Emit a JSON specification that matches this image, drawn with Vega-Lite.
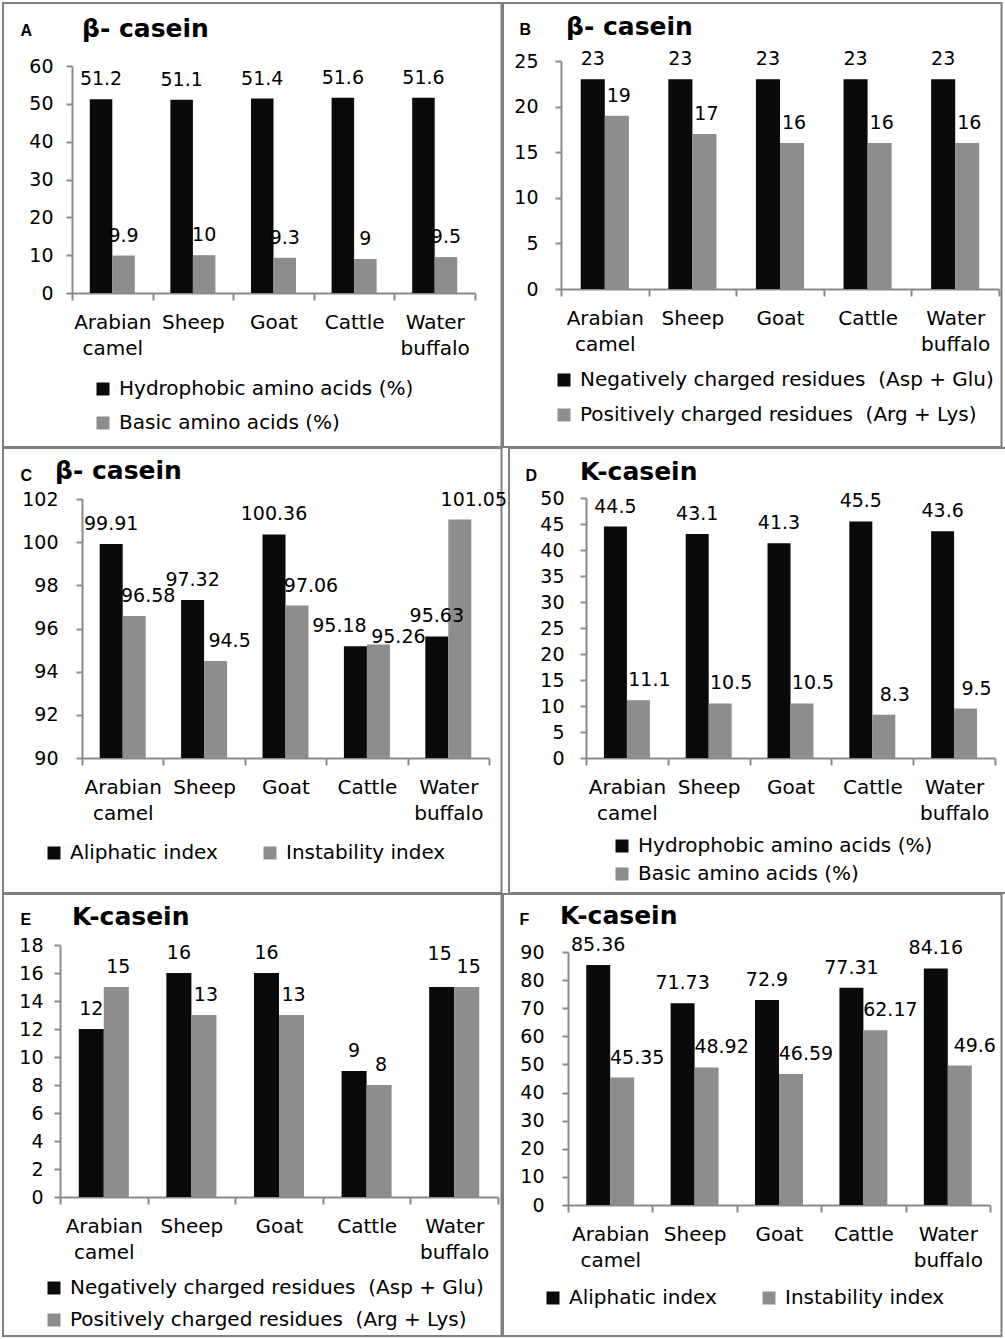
{
  "$schema": "https://vega.github.io/schema/vega-lite/v6.json",
  "padding": {"left": 2, "top": 2, "right": 2, "bottom": 2},
  "spacing": -2,
  "resolve": {"scale": {"color": "independent", "xOffset": "independent"}, "legend": {"color": "independent"}},
  "config": {
    "view": {"stroke": "#7f7f7f", "strokeWidth": 2},
    "font": "DejaVu Sans",
    "axis": {"domainColor": "#8a8a8a", "domainWidth": 2, "tickColor": "#8a8a8a", "tickWidth": 2, "labelColor": "#000", "labelFont": "DejaVu Sans", "grid": false},
    "axisX": {"labelFontSize": 20, "labelAngle": 0, "tickSize": 7, "labelPadding": 12, "labelLineHeight": 26},
    "axisY": {"labelFontSize": 19, "tickSize": 6, "labelFlush": false},
    "legend": {"orient": "none", "symbolType": "square", "symbolSize": 169, "symbolStrokeWidth": 0, "labelFontSize": 20, "labelFont": "DejaVu Sans", "labelColor": "#000", "labelLimit": 700, "labelOffset": 6, "padding": 0},
    "title": {"font": "DejaVu Sans", "fontSize": 25, "fontWeight": "bold", "anchor": "start", "frame": "group", "baseline": "alphabetic", "color": "#000"},
    "text": {"fontSize": 19, "font": "DejaVu Sans", "baseline": "alphabetic", "color": "#000"}
  },
  "vconcat": [
    {
      "spacing": -2,
      "resolve": {"scale": {"color": "independent", "xOffset": "independent"}, "legend": {"color": "independent"}},
      "hconcat": [
        {
          "width": 498.5, "height": 444,
          "title": {"text": "β- casein", "offset": -38.5, "dx": 79},
          "data": {"values": [
            {"animal": "Arabian camel", "series": "Hydrophobic amino acids (%)", "value": 51.2},
            {"animal": "Sheep", "series": "Hydrophobic amino acids (%)", "value": 51.1},
            {"animal": "Goat", "series": "Hydrophobic amino acids (%)", "value": 51.4},
            {"animal": "Cattle", "series": "Hydrophobic amino acids (%)", "value": 51.6},
            {"animal": "Water buffalo", "series": "Hydrophobic amino acids (%)", "value": 51.6},
            {"animal": "Arabian camel", "series": "Basic amino acids (%)", "value": 9.9},
            {"animal": "Sheep", "series": "Basic amino acids (%)", "value": 10},
            {"animal": "Goat", "series": "Basic amino acids (%)", "value": 9.3},
            {"animal": "Cattle", "series": "Basic amino acids (%)", "value": 9},
            {"animal": "Water buffalo", "series": "Basic amino acids (%)", "value": 9.5}
          ]},
          "encoding": {
            "x": {"field": "animal", "type": "nominal", "scale": {"domain": ["Arabian camel", "Sheep", "Goat", "Cattle", "Water buffalo"], "range": [69, 472], "paddingInner": 0, "paddingOuter": 0}, "axis": {"title": null, "offset": -154, "tickBand": "extent", "labelFontSize": 20, "labelExpr": "split(datum.label, ' ')"}},
            "xOffset": {"field": "series", "type": "nominal", "scale": {"domain": ["Hydrophobic amino acids (%)", "Basic amino acids (%)"], "paddingOuter": 0.79, "paddingInner": 0}},
            "y": {"field": "value", "type": "quantitative", "scale": {"domain": [0, 60], "range": [290, 63], "nice": false}, "axis": {"values": [0, 10, 20, 30, 40, 50, 60], "offset": -69, "labelPadding": 13, "labelFontSize": 19, "title": "A", "titleFontSize": 16, "titleFont": "Liberation Sans", "titleFontWeight": "bold", "titleColor": "#000", "titleAngle": 0, "titleAlign": "left", "titleBaseline": "alphabetic", "titleX": -52, "titleY": 32}}
          },
          "layer": [
            {"mark": {"type": "bar"}, "encoding": {"y2": {"datum": 0}, "color": {"field": "series", "type": "nominal", "scale": {"domain": ["Hydrophobic amino acids (%)", "Basic amino acids (%)"], "range": ["#0a0a0a", "#8d8d8d"]}, "legend": {"title": null, "direction": "vertical", "legendX": 90, "legendY": 376, "rowPadding": 14}}}},
            {"transform": [{"filter": {"field": "series", "equal": "Hydrophobic amino acids (%)"}}], "mark": {"type": "text", "dy": -14}, "encoding": {"text": {"field": "value", "type": "quantitative"}}},
            {"transform": [{"filter": {"field": "series", "equal": "Basic amino acids (%)"}}], "mark": {"type": "text", "dy": -14, "dx": 0}, "encoding": {"text": {"field": "value", "type": "quantitative"}}}
          ]
        },
        {
          "width": 498.5, "height": 444,
          "title": {"text": "β- casein", "offset": -36.5, "dx": 63},
          "data": {"values": [
            {"animal": "Arabian camel", "series": "Negatively charged residues \u00a0(Asp + Glu)", "value": 23},
            {"animal": "Sheep", "series": "Negatively charged residues \u00a0(Asp + Glu)", "value": 23},
            {"animal": "Goat", "series": "Negatively charged residues \u00a0(Asp + Glu)", "value": 23},
            {"animal": "Cattle", "series": "Negatively charged residues \u00a0(Asp + Glu)", "value": 23},
            {"animal": "Water buffalo", "series": "Negatively charged residues \u00a0(Asp + Glu)", "value": 23},
            {"animal": "Arabian camel", "series": "Positively charged residues \u00a0(Arg + Lys)", "value": 19},
            {"animal": "Sheep", "series": "Positively charged residues \u00a0(Arg + Lys)", "value": 17},
            {"animal": "Goat", "series": "Positively charged residues \u00a0(Arg + Lys)", "value": 16},
            {"animal": "Cattle", "series": "Positively charged residues \u00a0(Arg + Lys)", "value": 16},
            {"animal": "Water buffalo", "series": "Positively charged residues \u00a0(Arg + Lys)", "value": 16}
          ]},
          "encoding": {
            "x": {"field": "animal", "type": "nominal", "scale": {"domain": ["Arabian camel", "Sheep", "Goat", "Cattle", "Water buffalo"], "range": [58, 496], "paddingInner": 0, "paddingOuter": 0}, "axis": {"title": null, "offset": -158, "tickBand": "extent", "labelFontSize": 20, "labelExpr": "split(datum.label, ' ')"}},
            "xOffset": {"field": "series", "type": "nominal", "scale": {"domain": ["Negatively charged residues \u00a0(Asp + Glu)", "Positively charged residues \u00a0(Arg + Lys)"], "paddingOuter": 0.82, "paddingInner": 0}},
            "y": {"field": "value", "type": "quantitative", "scale": {"domain": [0, 25], "range": [286, 58], "nice": false}, "axis": {"values": [0, 5, 10, 15, 20, 25], "offset": -58, "labelPadding": 17, "labelFontSize": 19, "title": "B", "titleFontSize": 16, "titleFont": "Liberation Sans", "titleFontWeight": "bold", "titleColor": "#000", "titleAngle": 0, "titleAlign": "left", "titleBaseline": "alphabetic", "titleX": -42, "titleY": 31}}
          },
          "layer": [
            {"mark": {"type": "bar"}, "encoding": {"y2": {"datum": 0}, "color": {"field": "series", "type": "nominal", "scale": {"domain": ["Negatively charged residues \u00a0(Asp + Glu)", "Positively charged residues \u00a0(Arg + Lys)"], "range": ["#0a0a0a", "#8d8d8d"]}, "legend": {"title": null, "direction": "vertical", "legendX": 51, "legendY": 367, "rowPadding": 15}}}},
            {"transform": [{"filter": {"field": "series", "equal": "Negatively charged residues \u00a0(Asp + Glu)"}}], "mark": {"type": "text", "dy": -14}, "encoding": {"text": {"field": "value", "type": "quantitative"}}},
            {"transform": [{"filter": {"field": "series", "equal": "Positively charged residues \u00a0(Arg + Lys)"}}], "mark": {"type": "text", "dy": -14, "dx": 2}, "encoding": {"text": {"field": "value", "type": "quantitative"}}}
          ]
        }
      ]
    },
    {
      "spacing": -2,
      "resolve": {"scale": {"color": "independent", "xOffset": "independent"}, "legend": {"color": "independent"}},
      "hconcat": [
        {
          "width": 498.5, "height": 445,
          "title": {"text": "β- casein", "offset": -36, "dx": 52},
          "data": {"values": [
            {"animal": "Arabian camel", "series": "Aliphatic index", "value": 99.91},
            {"animal": "Sheep", "series": "Aliphatic index", "value": 97.32},
            {"animal": "Goat", "series": "Aliphatic index", "value": 100.36},
            {"animal": "Cattle", "series": "Aliphatic index", "value": 95.18},
            {"animal": "Water buffalo", "series": "Aliphatic index", "value": 95.63},
            {"animal": "Arabian camel", "series": "Instability index", "value": 96.58},
            {"animal": "Sheep", "series": "Instability index", "value": 94.5},
            {"animal": "Goat", "series": "Instability index", "value": 97.06},
            {"animal": "Cattle", "series": "Instability index", "value": 95.26},
            {"animal": "Water buffalo", "series": "Instability index", "value": 101.05}
          ]},
          "encoding": {
            "x": {"field": "animal", "type": "nominal", "scale": {"domain": ["Arabian camel", "Sheep", "Goat", "Cattle", "Water buffalo"], "range": [79, 486], "paddingInner": 0, "paddingOuter": 0}, "axis": {"title": null, "offset": -135, "tickBand": "extent", "labelFontSize": 20, "labelExpr": "split(datum.label, ' ')"}},
            "xOffset": {"field": "series", "type": "nominal", "scale": {"domain": ["Aliphatic index", "Instability index"], "paddingOuter": 0.77, "paddingInner": 0}},
            "y": {"field": "value", "type": "quantitative", "scale": {"domain": [90, 102], "range": [310, 51], "nice": false, "zero": false}, "axis": {"values": [90, 92, 94, 96, 98, 100, 102], "offset": -79, "labelPadding": 18, "labelFontSize": 19, "title": "C", "titleFontSize": 16, "titleFont": "Liberation Sans", "titleFontWeight": "bold", "titleColor": "#000", "titleAngle": 0, "titleAlign": "left", "titleBaseline": "alphabetic", "titleX": -62, "titleY": 32}}
          },
          "layer": [
            {"mark": {"type": "bar"}, "encoding": {"y2": {"datum": 90}, "color": {"field": "series", "type": "nominal", "scale": {"domain": ["Aliphatic index", "Instability index"], "range": ["#0a0a0a", "#8d8d8d"]}, "legend": {"title": null, "direction": "horizontal", "legendX": 41, "legendY": 395, "columnPadding": 42}}}},
            {"transform": [{"filter": "datum.series == 'Aliphatic index' && datum.animal != 'Cattle'"}], "mark": {"type": "text", "dy": -14}, "encoding": {"text": {"field": "value", "type": "quantitative"}}},
            {"transform": [{"filter": "datum.series == 'Aliphatic index' && datum.animal == 'Cattle'"}], "mark": {"type": "text", "dy": -14, "dx": -16}, "encoding": {"text": {"field": "value", "type": "quantitative"}}},
            {"transform": [{"filter": "datum.series == 'Instability index' && datum.animal != 'Cattle'"}], "mark": {"type": "text", "dy": -14, "dx": 14}, "encoding": {"text": {"field": "value", "type": "quantitative"}}},
            {"transform": [{"filter": "datum.series == 'Instability index' && datum.animal == 'Cattle'"}], "mark": {"type": "text", "dy": -1, "dx": 20}, "encoding": {"text": {"field": "value", "type": "quantitative"}}}
          ]
        },
        {
          "width": 498.5, "height": 445,
          "title": {"text": "K-casein", "offset": -37, "dx": 71},
          "data": {"values": [
            {"animal": "Arabian camel", "series": "Hydrophobic amino acids (%)", "value": 44.5},
            {"animal": "Sheep", "series": "Hydrophobic amino acids (%)", "value": 43.1},
            {"animal": "Goat", "series": "Hydrophobic amino acids (%)", "value": 41.3},
            {"animal": "Cattle", "series": "Hydrophobic amino acids (%)", "value": 45.5},
            {"animal": "Water buffalo", "series": "Hydrophobic amino acids (%)", "value": 43.6},
            {"animal": "Arabian camel", "series": "Basic amino acids (%)", "value": 11.1},
            {"animal": "Sheep", "series": "Basic amino acids (%)", "value": 10.5},
            {"animal": "Goat", "series": "Basic amino acids (%)", "value": 10.5},
            {"animal": "Cattle", "series": "Basic amino acids (%)", "value": 8.3},
            {"animal": "Water buffalo", "series": "Basic amino acids (%)", "value": 9.5}
          ]},
          "encoding": {
            "x": {"field": "animal", "type": "nominal", "scale": {"domain": ["Arabian camel", "Sheep", "Goat", "Cattle", "Water buffalo"], "range": [77, 486], "paddingInner": 0, "paddingOuter": 0}, "axis": {"title": null, "offset": -135, "tickBand": "extent", "labelFontSize": 20, "labelExpr": "split(datum.label, ' ')"}},
            "xOffset": {"field": "series", "type": "nominal", "scale": {"domain": ["Hydrophobic amino acids (%)", "Basic amino acids (%)"], "paddingOuter": 0.78, "paddingInner": 0}},
            "y": {"field": "value", "type": "quantitative", "scale": {"domain": [0, 50], "range": [310, 50], "nice": false}, "axis": {"values": [0, 5, 10, 15, 20, 25, 30, 35, 40, 45, 50], "offset": -77, "labelPadding": 16, "labelFontSize": 19, "title": "D", "titleFontSize": 16, "titleFont": "Liberation Sans", "titleFontWeight": "bold", "titleColor": "#000", "titleAngle": 0, "titleAlign": "left", "titleBaseline": "alphabetic", "titleX": -61, "titleY": 32}}
          },
          "layer": [
            {"mark": {"type": "bar"}, "encoding": {"y2": {"datum": 0}, "color": {"field": "series", "type": "nominal", "scale": {"domain": ["Hydrophobic amino acids (%)", "Basic amino acids (%)"], "range": ["#0a0a0a", "#8d8d8d"]}, "legend": {"title": null, "direction": "vertical", "legendX": 103, "legendY": 388, "rowPadding": 8}}}},
            {"transform": [{"filter": {"field": "series", "equal": "Hydrophobic amino acids (%)"}}], "mark": {"type": "text", "dy": -14}, "encoding": {"text": {"field": "value", "type": "quantitative"}}},
            {"transform": [{"filter": {"field": "series", "equal": "Basic amino acids (%)"}}], "mark": {"type": "text", "dy": -14, "dx": 11}, "encoding": {"text": {"field": "value", "type": "quantitative"}}}
          ]
        }
      ]
    },
    {
      "spacing": -2,
      "resolve": {"scale": {"color": "independent", "xOffset": "independent"}, "legend": {"color": "independent"}},
      "hconcat": [
        {
          "width": 498.5, "height": 442,
          "title": {"text": "K-casein", "offset": -36, "dx": 69},
          "data": {"values": [
            {"animal": "Arabian camel", "series": "Negatively charged residues \u00a0(Asp + Glu)", "value": 12},
            {"animal": "Sheep", "series": "Negatively charged residues \u00a0(Asp + Glu)", "value": 16},
            {"animal": "Goat", "series": "Negatively charged residues \u00a0(Asp + Glu)", "value": 16},
            {"animal": "Cattle", "series": "Negatively charged residues \u00a0(Asp + Glu)", "value": 9},
            {"animal": "Water buffalo", "series": "Negatively charged residues \u00a0(Asp + Glu)", "value": 15},
            {"animal": "Arabian camel", "series": "Positively charged residues \u00a0(Arg + Lys)", "value": 15},
            {"animal": "Sheep", "series": "Positively charged residues \u00a0(Arg + Lys)", "value": 13},
            {"animal": "Goat", "series": "Positively charged residues \u00a0(Arg + Lys)", "value": 13},
            {"animal": "Cattle", "series": "Positively charged residues \u00a0(Arg + Lys)", "value": 8},
            {"animal": "Water buffalo", "series": "Positively charged residues \u00a0(Arg + Lys)", "value": 15}
          ]},
          "encoding": {
            "x": {"field": "animal", "type": "nominal", "scale": {"domain": ["Arabian camel", "Sheep", "Goat", "Cattle", "Water buffalo"], "range": [57, 495], "paddingInner": 0, "paddingOuter": 0}, "axis": {"title": null, "offset": -139, "tickBand": "extent", "labelFontSize": 20, "labelExpr": "split(datum.label, ' ')"}},
            "xOffset": {"field": "series", "type": "nominal", "scale": {"domain": ["Negatively charged residues \u00a0(Asp + Glu)", "Positively charged residues \u00a0(Arg + Lys)"], "paddingOuter": 0.75, "paddingInner": 0}},
            "y": {"field": "value", "type": "quantitative", "scale": {"domain": [0, 18], "range": [303, 51], "nice": false}, "axis": {"values": [0, 2, 4, 6, 8, 10, 12, 14, 16, 18], "offset": -57, "labelPadding": 11, "labelFontSize": 19, "title": "E", "titleFontSize": 16, "titleFont": "Liberation Sans", "titleFontWeight": "bold", "titleColor": "#000", "titleAngle": 0, "titleAlign": "left", "titleBaseline": "alphabetic", "titleX": -40, "titleY": 30}}
          },
          "layer": [
            {"mark": {"type": "bar"}, "encoding": {"y2": {"datum": 0}, "color": {"field": "series", "type": "nominal", "scale": {"domain": ["Negatively charged residues \u00a0(Asp + Glu)", "Positively charged residues \u00a0(Arg + Lys)"], "range": ["#0a0a0a", "#8d8d8d"]}, "legend": {"title": null, "direction": "vertical", "legendX": 41, "legendY": 384, "rowPadding": 12}}}},
            {"transform": [{"filter": "datum.series == 'Negatively charged residues \u00a0(Asp + Glu)' && datum.animal != 'Water buffalo'"}], "mark": {"type": "text", "dy": -14}, "encoding": {"text": {"field": "value", "type": "quantitative"}}},
            {"transform": [{"filter": "datum.series == 'Negatively charged residues \u00a0(Asp + Glu)' && datum.animal == 'Water buffalo'"}], "mark": {"type": "text", "dy": -27, "dx": -2}, "encoding": {"text": {"field": "value", "type": "quantitative"}}},
            {"transform": [{"filter": {"field": "series", "equal": "Positively charged residues \u00a0(Arg + Lys)"}}], "mark": {"type": "text", "dy": -14, "dx": 2}, "encoding": {"text": {"field": "value", "type": "quantitative"}}}
          ]
        },
        {
          "width": 498.5, "height": 442,
          "title": {"text": "K-casein", "offset": -35, "dx": 57},
          "data": {"values": [
            {"animal": "Arabian camel", "series": "Aliphatic index", "value": 85.36},
            {"animal": "Sheep", "series": "Aliphatic index", "value": 71.73},
            {"animal": "Goat", "series": "Aliphatic index", "value": 72.9},
            {"animal": "Cattle", "series": "Aliphatic index", "value": 77.31},
            {"animal": "Water buffalo", "series": "Aliphatic index", "value": 84.16},
            {"animal": "Arabian camel", "series": "Instability index", "value": 45.35},
            {"animal": "Sheep", "series": "Instability index", "value": 48.92},
            {"animal": "Goat", "series": "Instability index", "value": 46.59},
            {"animal": "Cattle", "series": "Instability index", "value": 62.17},
            {"animal": "Water buffalo", "series": "Instability index", "value": 49.6}
          ]},
          "encoding": {
            "x": {"field": "animal", "type": "nominal", "scale": {"domain": ["Arabian camel", "Sheep", "Goat", "Cattle", "Water buffalo"], "range": [65, 487], "paddingInner": 0, "paddingOuter": 0}, "axis": {"title": null, "offset": -131, "tickBand": "extent", "labelFontSize": 20, "labelExpr": "split(datum.label, ' ')"}},
            "xOffset": {"field": "series", "type": "nominal", "scale": {"domain": ["Aliphatic index", "Instability index"], "paddingOuter": 0.76, "paddingInner": 0}},
            "y": {"field": "value", "type": "quantitative", "scale": {"domain": [0, 90], "range": [311, 58], "nice": false}, "axis": {"values": [0, 10, 20, 30, 40, 50, 60, 70, 80, 90], "offset": -65, "labelPadding": 18, "labelFontSize": 19, "title": "F", "titleFontSize": 16, "titleFont": "Liberation Sans", "titleFontWeight": "bold", "titleColor": "#000", "titleAngle": 0, "titleAlign": "left", "titleBaseline": "alphabetic", "titleX": -49, "titleY": 30}}
          },
          "layer": [
            {"mark": {"type": "bar"}, "encoding": {"y2": {"datum": 0}, "color": {"field": "series", "type": "nominal", "scale": {"domain": ["Aliphatic index", "Instability index"], "range": ["#0a0a0a", "#8d8d8d"]}, "legend": {"title": null, "direction": "horizontal", "legendX": 40, "legendY": 394, "columnPadding": 42}}}},
            {"transform": [{"filter": {"field": "series", "equal": "Aliphatic index"}}], "mark": {"type": "text", "dy": -14}, "encoding": {"text": {"field": "value", "type": "quantitative"}}},
            {"transform": [{"filter": {"field": "series", "equal": "Instability index"}}], "mark": {"type": "text", "dy": -14, "dx": 15}, "encoding": {"text": {"field": "value", "type": "quantitative"}}}
          ]
        }
      ]
    }
  ]
}
